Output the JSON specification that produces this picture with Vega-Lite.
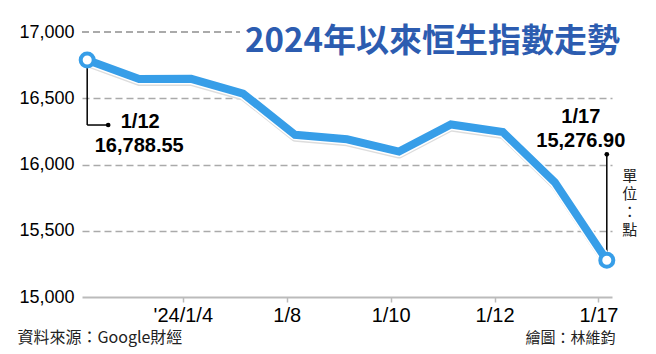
{
  "$schema": "https://vega.github.io/schema/vega-lite/v6.json",
  "width": 530,
  "height": 265,
  "autosize": {"type": "none"},
  "padding": {"left": 82, "top": 32, "right": 44, "bottom": 57},
  "background": "white",
  "config": {"view": {"stroke": null}, "font": "Liberation Sans"},
  "title": {
    "text": "2024年以來恒生指數走勢",
    "anchor": "end",
    "frame": "group",
    "orient": "top",
    "font": "Noto Sans CJK TC",
    "fontSize": 33,
    "fontWeight": "bold",
    "color": "#2c5cb0",
    "baseline": "bottom",
    "offset": -26,
    "dy": 43,
    "dx": 8
  },
  "data": {
    "values": [
      {"i": 0, "date": "2024-01-02", "note": "1/12", "v": 16788.55},
      {"i": 1, "date": "2024-01-03", "v": 16645.98},
      {"i": 2, "date": "2024-01-04", "v": 16646.41},
      {"i": 3, "date": "2024-01-05", "v": 16535.33},
      {"i": 4, "date": "2024-01-08", "v": 16224.45},
      {"i": 5, "date": "2024-01-09", "v": 16190.02},
      {"i": 6, "date": "2024-01-10", "v": 16097.25},
      {"i": 7, "date": "2024-01-11", "v": 16302.01},
      {"i": 8, "date": "2024-01-12", "v": 16244.58},
      {"i": 9, "date": "2024-01-16", "v": 15865.92},
      {"i": 10, "date": "2024-01-17", "note": "1/17", "v": 15276.90}
    ]
  },
  "encoding": {
    "x": {
      "field": "i",
      "type": "quantitative",
      "scale": {"domain": [-0.1, 10.1], "nice": false, "zero": false},
      "axis": {
        "values": [1.84, 3.84, 5.84, 7.84, 9.84],
        "labelExpr": "[\"'24/1/4\",\"1/8\",\"1/10\",\"1/12\",\"1/17\"][round((datum.value+0.16)/2)-1]",
        "labelOverlap": false,
        "labelFlush": false,
        "grid": false,
        "domainColor": "#bbbbbb",
        "domainWidth": 2,
        "tickColor": "#bbbbbb",
        "tickSize": 5,
        "tickWidth": 1.5,
        "labelFontSize": 20,
        "labelColor": "black",
        "labelPadding": 3,
        "title": "繪圖：林維鈞",
        "titleX": 533,
        "titleY": 40,
        "titleAlign": "right",
        "titleBaseline": "middle",
        "titleFont": "Noto Sans CJK TC",
        "titleFontSize": 15,
        "titleFontWeight": "normal",
        "titleColor": "#222222"
      }
    },
    "y": {
      "field": "v",
      "type": "quantitative",
      "scale": {"domain": [15000, 17000], "nice": false, "zero": false},
      "axis": {
        "values": [15000, 15500, 16000, 16500, 17000],
        "labelExpr": "format(datum.value, ',')",
        "domain": false,
        "ticks": false,
        "labelFontSize": 18,
        "labelColor": "black",
        "labelPadding": 8,
        "grid": true,
        "gridDash": [7, 4],
        "gridColor": "#aaaaaa",
        "gridWidth": 1.5,
        "gridOpacity": {"condition": {"test": "datum.value == 17000 || datum.value == 15000", "value": 0}, "value": 1},
        "title": "資料來源：Google財經",
        "titleAngle": 0,
        "titleX": -65,
        "titleY": 305,
        "titleAlign": "left",
        "titleBaseline": "middle",
        "titleFont": "Noto Sans CJK TC",
        "titleFontSize": 16,
        "titleFontWeight": "normal",
        "titleColor": "#222222"
      }
    }
  },
  "layer": [
    {
      "mark": {"type": "rule", "strokeDash": [7, 4], "color": "#aaaaaa", "strokeWidth": 1.5},
      "encoding": {"x": {"datum": -0.1, "type": "quantitative"}, "x2": {"datum": 2.94}, "y": {"datum": 17000, "type": "quantitative"}}
    },
    {
      "transform": [{"filter": "datum.i == 0"}],
      "mark": {"type": "rule", "color": "black", "strokeWidth": 1.5, "y2Offset": 65},
      "encoding": {"y2": {"field": "v"}}
    },
    {
      "transform": [{"filter": "datum.i == 0"}],
      "mark": {"type": "rule", "color": "black", "strokeWidth": 1.5, "x2Offset": 21, "yOffset": 65},
      "encoding": {"x2": {"field": "i"}}
    },
    {
      "transform": [{"filter": "datum.i == 0"}],
      "mark": {"type": "point", "filled": true, "color": "black", "opacity": 1, "size": 22, "xOffset": 21, "yOffset": 65}
    },
    {
      "transform": [{"filter": "datum.i == 10"}],
      "mark": {"type": "rule", "color": "black", "strokeWidth": 1.5, "y2Offset": -106},
      "encoding": {"y2": {"field": "v"}}
    },
    {
      "transform": [{"filter": "datum.i == 10"}],
      "mark": {"type": "point", "filled": true, "color": "black", "opacity": 1, "size": 22, "yOffset": -106}
    },
    {
      "mark": {"type": "line", "color": "#dddddd", "strokeWidth": 8, "yOffset": 3, "strokeJoin": "round"}
    },
    {
      "mark": {"type": "line", "color": "white", "strokeWidth": 11, "strokeJoin": "round"}
    },
    {
      "mark": {"type": "line", "color": "#379ee8", "strokeWidth": 8, "strokeJoin": "miter"}
    },
    {
      "transform": [{"filter": "datum.i == 0 || datum.i == 10"}],
      "mark": {"type": "point", "filled": true, "fill": "white", "stroke": "#379ee8", "strokeWidth": 4, "size": 170, "opacity": 1}
    },
    {
      "transform": [{"filter": "datum.i == 0"}],
      "mark": {"type": "text", "fontSize": 20, "fontWeight": "bold", "color": "black", "align": "center", "baseline": "middle", "dx": 53, "dy": 62},
      "encoding": {"text": {"field": "note"}}
    },
    {
      "transform": [{"filter": "datum.i == 0"}],
      "mark": {"type": "text", "fontSize": 20, "fontWeight": "bold", "color": "black", "align": "center", "baseline": "middle", "dx": 52, "dy": 86},
      "encoding": {"text": {"field": "v", "format": ",.2f"}}
    },
    {
      "transform": [{"filter": "datum.i == 10"}],
      "mark": {"type": "text", "fontSize": 20, "fontWeight": "bold", "color": "black", "align": "center", "baseline": "middle", "dx": -26, "dy": -143},
      "encoding": {"text": {"field": "note"}}
    },
    {
      "transform": [{"filter": "datum.i == 10"}],
      "mark": {"type": "text", "fontSize": 20, "fontWeight": "bold", "color": "black", "align": "center", "baseline": "middle", "dx": -26, "dy": -119},
      "encoding": {"text": {"field": "v", "format": ",.2f"}}
    },
    {
      "transform": [{"filter": "datum.i == 10"}],
      "mark": {"type": "text", "text": ["單", "位", "：", "點"], "font": "Noto Sans CJK TC", "fontSize": 15, "lineHeight": 18, "color": "#222222", "align": "center", "baseline": "middle", "dx": 23, "dy": -84}
    }
  ]
}
